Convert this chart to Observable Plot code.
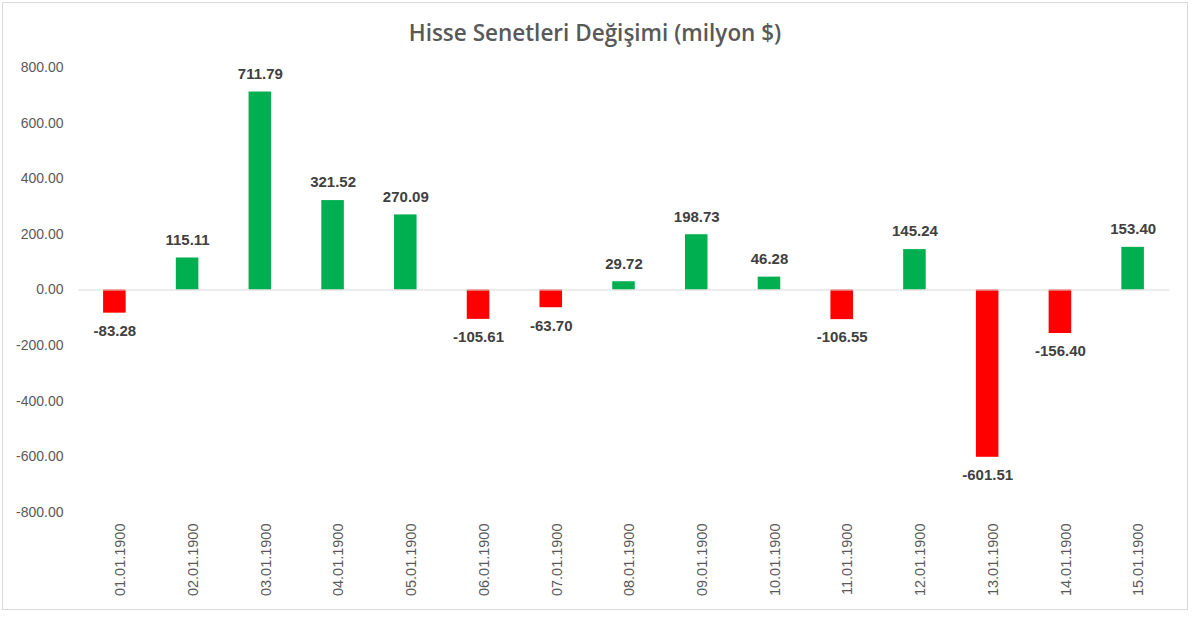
<!DOCTYPE html>
<html>
<head>
<meta charset="utf-8">
<script src="https://cdn.jsdelivr.net/npm/d3@7"></script>
<script src="https://cdn.jsdelivr.net/npm/@observablehq/plot@0.6"></script>
<style>
  body { margin: 0; background: #fff; }
  #wrap { position: relative; width: 1200px; height: 622px; overflow: hidden; }
  #border { position: absolute; left: 2px; top: 2px; width: 1186px; height: 608px; border: 1px solid #d9d9d9; box-sizing: border-box; }
  #title { position: absolute; left: 2px; width: 1186px; top: 17px; text-align: center; font-family: "Open Sans", sans-serif; font-weight: 600; font-size: 22.5px; color: #595959; line-height: 32px; }
  #chart { position: absolute; left: 0; top: 0; }
</style>
</head>
<body>
<div id="wrap">
  <div id="border"></div>
  <div id="chart"></div>
  <div id="title">Hisse Senetleri Değişimi (milyon $)</div>
</div>
<script>
const dates = ["01.01.1900","02.01.1900","03.01.1900","04.01.1900","05.01.1900","06.01.1900","07.01.1900","08.01.1900","09.01.1900","10.01.1900","11.01.1900","12.01.1900","13.01.1900","14.01.1900","15.01.1900"];
const values = [-83.28, 115.11, 711.79, 321.52, 270.09, -105.61, -63.70, 29.72, 198.73, 46.28, -106.55, 145.24, -601.51, -156.40, 153.40];
const yTicks = [-800, -600, -400, -200, 0, 200, 400, 600, 800];

const data = dates.map((d, i) => ({date: d, value: values[i]}));
const pos = data.filter(d => d.value >= 0);
const neg = data.filter(d => d.value < 0);

const chart = Plot.plot({
  width: 1200,
  height: 622,
  marginTop: 67,
  marginBottom: 110,
  marginLeft: 78,
  marginRight: 31,
  style: {background: "transparent", overflow: "visible"},
  x: {domain: dates, paddingInner: 0.69, paddingOuter: 0.345, round: false, label: null},
  y: {domain: [-800, 800], label: null},
  marks: [
    Plot.axisY({ticks: yTicks, tickSize: 0, tickPadding: 15, tickFormat: d => d.toFixed(2), fontSize: 14, fontFamily: "Liberation Sans, Arial, sans-serif", fill: "#595959", label: null}),
    Plot.axisX({tickSize: 0, tickPadding: 11, rotate: -90, textAnchor: "end", fontSize: 14.5, fontFamily: "Liberation Sans, Arial, sans-serif", fill: "#595959", label: null}),
    Plot.barY(data, {x: "date", y: "value", fill: d => d.value >= 0 ? "#00b050" : "#ff0000"}),
    Plot.ruleY([0], {stroke: "#d9d9d9", strokeWidth: 1}),
    Plot.text(pos, {x: "date", y: "value", text: d => d.value.toFixed(2), dy: -18, fontWeight: "bold", fontSize: 15, fontFamily: "Liberation Sans, Arial, sans-serif", fill: "#404040"}),
    Plot.text(neg, {x: "date", y: "value", text: d => d.value.toFixed(2), dy: 18, fontWeight: "bold", fontSize: 15, fontFamily: "Liberation Sans, Arial, sans-serif", fill: "#404040"})
  ]
});
document.getElementById("chart").appendChild(chart);
</script>
</body>
</html>
